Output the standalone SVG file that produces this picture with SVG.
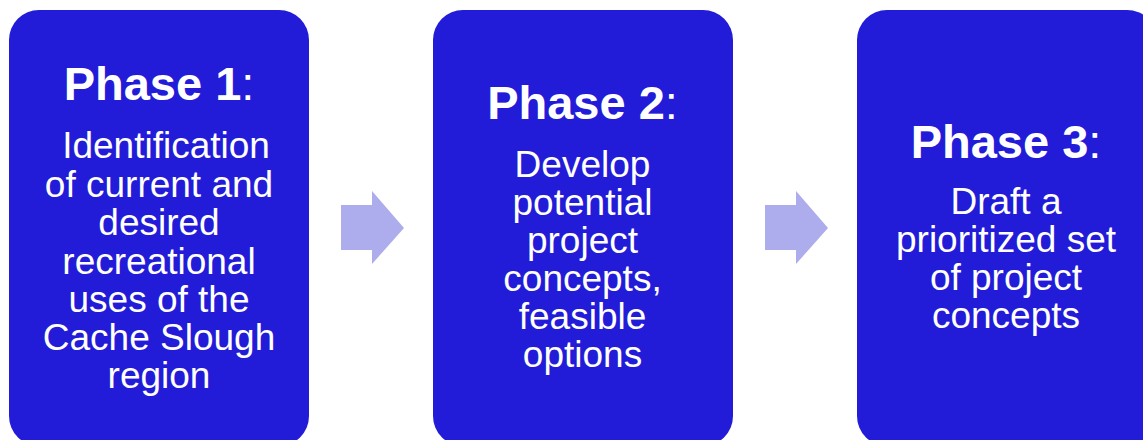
<svg xmlns="http://www.w3.org/2000/svg" width="1143" height="440" viewBox="0 0 1143 440">
<style>
.box{fill:#221CD9;}
.arrow{fill:#ADACEC;}
text{font-family:"Liberation Sans",Arial,sans-serif;fill:#FFFFFF;text-anchor:middle;}
.title{font-size:47px;}
.title tspan.b{font-weight:bold;}
.body{font-size:37px;}
</style>
<rect width="1143" height="440" fill="#FFFFFF"/>
<g id="phase1">
<rect class="box" x="9" y="10" width="300" height="436" rx="30" ry="30"/>
<text class="title" x="159" y="100"><tspan class="b">Phase 1</tspan>:</text>
<text class="body"><tspan x="166" y="158">Identification</tspan><tspan x="159" y="196.5">of current and</tspan><tspan x="159" y="235">desired</tspan><tspan x="159" y="273.5">recreational</tspan><tspan x="159" y="311.5">uses of the</tspan><tspan x="159" y="350">Cache Slough</tspan><tspan x="159" y="388">region</tspan></text>
</g>
<g id="phase2">
<rect class="box" x="433" y="10" width="300" height="436" rx="30" ry="30"/>
<text class="title" x="582.5" y="119"><tspan class="b">Phase 2</tspan>:</text>
<text class="body"><tspan x="582.5" y="177">Develop</tspan><tspan x="582.5" y="215">potential</tspan><tspan x="582.5" y="253">project</tspan><tspan x="582.5" y="291">concepts,</tspan><tspan x="582.5" y="329">feasible</tspan><tspan x="582.5" y="367">options</tspan></text>
</g>
<g id="phase3">
<rect class="box" x="857" y="10" width="300" height="436" rx="30" ry="30"/>
<text class="title" x="1006" y="158"><tspan class="b">Phase 3</tspan>:</text>
<text class="body"><tspan x="1006" y="213.5">Draft a</tspan><tspan x="1006" y="251.5">prioritized set</tspan><tspan x="1006" y="289.5">of project</tspan><tspan x="1006" y="327.5">concepts</tspan></text>
</g>
<g id="connectors">
<polygon class="arrow" points="341,205 372,205 372,191 404,228 372,264 372,250 341,250"/>
<polygon class="arrow" points="765,205 796,205 796,191 828,228 796,264 796,250 765,250"/>
</g>
</svg>
